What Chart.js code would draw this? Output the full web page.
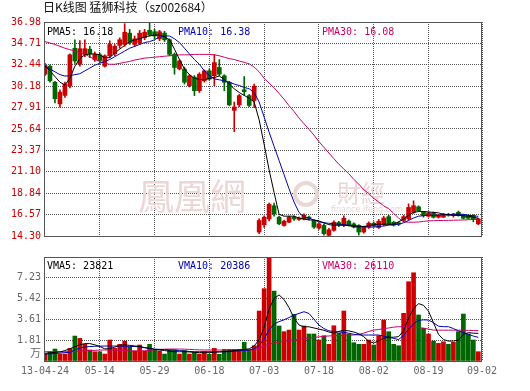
<!DOCTYPE html>
<html>
<head>
<meta charset="utf-8">
<script src="https://cdn.jsdelivr.net/npm/chart.js@4.4.1/dist/chart.umd.min.js"></script>
<style>
  body { margin: 0; background: #fff; }
  #wrap { position: relative; width: 530px; height: 391px; overflow: hidden; }
  #title { position: absolute; left: 43px; top: -2px; font: 12px 'Noto Sans CJK SC'; color: #111; white-space: pre; }
  #price { position: absolute; left: 0; top: 0; }
  #vol { position: absolute; left: 0; top: 245px; }
</style>
</head>
<body>
<div id="wrap">
  <canvas id="price" width="530" height="245"></canvas>
  <canvas id="vol" width="530" height="146"></canvas>
  <div id="title">日K线图 猛狮科技（sz002684）</div>
</div>
<script>
// trading days, 2013-04-24 .. 2013-09-02
const dates = ['04-24','04-25','04-26','05-02','05-03','05-06','05-07','05-08','05-09','05-10',
  '05-13','05-14','05-15','05-16','05-17','05-20','05-21','05-22','05-23','05-24',
  '05-27','05-28','05-29','05-30','05-31','06-03','06-04','06-05','06-06','06-07',
  '06-13','06-14','06-17','06-18','06-19','06-20','06-21','06-24','06-25','06-26',
  '06-27','06-28','07-01','07-02','07-03','07-04','07-05','07-08','07-09','07-10',
  '07-11','07-12','07-15','07-16','07-17','07-18','07-19','07-22','07-23','07-24',
  '07-25','07-26','07-29','07-30','07-31','08-01','08-02','08-05','08-06','08-07',
  '08-08','08-09','08-12','08-13','08-14','08-15','08-16','08-19','08-20','08-21',
  '08-22','08-23','08-26','08-27','08-28','08-29','08-30','09-02'];

const openP = [31.45,32.3,30.6,28.3,29.2,30.2,34.2,32.5,33.55,34.1,
  33.0,33.5,32.3,33.4,33.6,34.5,34.6,35.8,34.6,34.8,
  35.3,36.1,35.95,35.2,35.8,35.1,33.55,32.0,32.0,30.23,
  31.14,29.7,30.75,31.8,31.28,32.16,31.28,30.59,27.62,28.2,
  29.8,29.18,28.66,14.72,15.5,16.11,17.5,16.29,15.42,15.76,
  16.29,16.05,16.1,16.3,15.94,15.14,15.42,14.37,14.9,15.73,
  15.42,15.87,15.59,15.42,14.72,15.24,15.66,15.2,15.5,16.35,
  15.76,15.7,15.95,16.11,16.81,17.4,16.81,16.4,16.73,16.29,
  16.3,16.6,16.46,16.81,16.53,16.46,16.46,15.59];
const highP = [32.6,32.45,30.7,29.8,30.6,33.6,35.1,35.0,35.1,34.4,
  33.8,33.7,33.5,35.0,34.6,35.3,36.8,36.2,35.5,36.1,
  36.2,36.98,36.2,36.1,36.0,35.2,33.7,33.0,32.2,31.4,
  31.3,31.6,31.9,32.0,33.55,33.0,31.4,30.7,28.5,29.3,
  31.2,29.3,30.4,16.11,16.45,17.8,17.8,16.4,16.0,16.4,
  16.45,16.3,16.65,16.4,16.0,15.7,15.6,15.1,15.9,15.85,
  16.45,16.0,15.7,15.5,15.35,15.8,15.8,16.05,16.4,16.5,
  15.85,15.8,16.5,17.7,18.03,17.5,16.9,16.85,16.85,16.6,
  16.7,16.7,16.7,16.95,16.6,16.55,16.55,16.2];
const lowP = [31.3,30.6,28.4,27.95,29.0,30.0,32.6,32.3,33.3,33.2,
  32.8,32.7,32.2,33.2,33.4,34.2,34.4,34.6,34.4,34.6,
  35.1,35.5,35.2,35.0,34.9,33.4,31.45,31.9,30.4,30.1,
  29.18,29.5,30.6,30.8,30.23,31.3,29.7,28.1,25.36,28.0,
  29.2,28.0,27.9,14.54,15.2,15.9,16.4,15.5,15.35,15.7,
  15.95,15.95,16.0,16.0,15.1,15.0,14.4,14.3,14.8,15.3,
  15.3,15.35,15.15,14.4,14.6,15.1,15.25,15.1,15.4,15.5,
  15.35,15.4,15.8,16.0,16.7,16.9,16.3,16.3,16.2,16.2,
  16.25,16.4,16.3,16.4,16.1,16.1,15.8,15.5];
const closeP = [32.4,30.75,28.85,29.55,30.4,33.5,32.85,34.15,34.15,33.6,
  33.55,32.9,33.4,34.6,34.4,35.1,35.9,34.8,35.2,35.8,
  35.9,35.6,35.5,35.95,35.1,33.55,32.16,32.85,30.6,31.28,
  29.7,31.45,31.8,30.93,32.68,31.45,30.59,28.2,27.97,29.18,
  29.6,28.14,30.18,15.94,16.29,17.65,16.63,15.59,15.87,16.29,
  16.11,16.2,16.5,16.15,15.24,15.59,14.54,14.96,15.76,15.45,
  16.18,15.45,15.24,14.72,15.24,15.66,15.35,15.85,16.2,15.55,
  15.45,15.55,16.35,17.33,17.51,16.99,16.46,16.75,16.29,16.53,
  16.63,16.5,16.63,16.46,16.18,16.18,16.05,16.11];

const ma5 = [32.3,31.8,31.2,30.6,30.3,31.0,32.3,33.1,33.5,33.6,
  33.6,33.5,33.2,33.2,33.7,34.1,34.5,34.9,35.1,35.2,
  35.4,35.5,35.6,35.6,35.4,35.1,34.1,33.0,32.0,31.4,
  31.0,30.9,30.85,31.0,31.1,31.25,30.9,30.4,29.9,29.5,
  29.2,28.9,28.5,26.6,24.0,21.3,18.9,16.6,16.4,16.4,
  16.4,16.2,16.1,16.0,16.0,15.9,15.7,15.5,15.45,15.45,
  15.45,15.4,15.3,15.25,15.3,15.4,15.5,15.55,15.55,15.55,
  15.55,15.8,16.1,16.5,16.8,16.9,16.9,16.85,16.8,16.75,
  16.6,16.55,16.5,16.5,16.45,16.4,16.3,16.18];
const ma10 = [32.3,32.0,31.7,31.4,31.25,31.3,31.4,31.5,31.8,32.1,
  32.4,32.6,32.8,33.0,33.3,33.6,33.9,34.2,34.4,34.6,
  34.8,34.9,35.1,35.4,35.5,35.5,35.2,34.8,34.2,33.6,
  33.0,32.5,31.8,31.3,30.95,30.85,30.75,30.6,30.4,30.25,
  30.05,29.9,29.5,28.5,26.9,25.3,23.8,22.3,20.8,19.3,
  17.9,16.8,16.3,16.2,16.0,15.8,15.7,15.65,15.6,15.55,
  15.5,15.45,15.4,15.35,15.3,15.25,15.25,15.3,15.35,15.45,
  15.5,15.55,15.7,15.95,16.2,16.4,16.45,16.5,16.5,16.5,
  16.55,16.55,16.6,16.6,16.6,16.5,16.45,16.38];
const ma30 = [34.9,34.75,34.6,34.4,34.2,34.05,33.9,33.7,33.55,33.3,
  33.0,32.8,32.6,32.5,32.5,32.6,32.7,32.8,32.95,33.05,
  33.15,33.2,33.25,33.3,33.35,33.4,33.45,33.5,33.5,33.5,
  33.55,33.55,33.55,33.55,33.5,33.4,33.25,33.1,33.0,32.85,
  32.7,32.55,32.2,31.7,31.0,30.5,30.0,29.4,28.8,28.1,
  27.5,26.8,26.2,25.6,25.0,24.3,23.7,23.1,22.5,21.9,
  21.4,20.9,20.3,19.8,19.2,18.8,18.3,17.9,17.5,17.2,
  16.7,16.2,15.8,15.76,15.76,15.78,15.85,15.9,15.92,15.94,
  15.95,15.96,15.97,15.98,16.0,16.02,16.05,16.08];

// volume, in 10k (万)
const vol = [0.60,0.80,1.03,0.60,0.60,1.09,2.15,1.95,1.44,0.95,
  0.80,0.80,0.60,1.81,1.09,1.44,1.72,1.23,0.86,1.38,
  0.86,1.44,0.95,0.86,0.60,0.95,0.95,0.60,0.90,0.60,
  0.75,0.60,0.80,0.58,1.09,0.58,1.00,1.00,1.00,1.00,
  1.61,0.95,1.32,4.31,6.24,9.50,6.03,3.02,2.53,2.67,
  4.02,2.67,3.02,2.33,2.33,1.81,2.18,1.44,3.04,2.39,
  4.31,2.33,1.58,1.44,1.44,1.81,1.38,2.18,3.53,2.53,
  1.44,1.32,4.11,6.84,7.61,3.97,2.82,2.33,1.72,1.52,
  1.66,1.44,1.61,2.53,4.05,2.33,1.81,0.80];
const vma5 = [0.66,0.7,0.75,0.78,0.9,1.05,1.23,1.4,1.5,1.5,
  1.4,1.25,1.05,1.05,1.2,1.35,1.4,1.35,1.3,1.25,
  1.15,1.1,1.0,0.95,0.9,0.85,0.8,0.8,0.8,0.78,
  0.75,0.72,0.72,0.72,0.75,0.78,0.8,0.85,0.9,0.95,
  1.0,1.05,1.3,1.84,2.9,4.5,5.4,5.7,5.3,4.6,
  3.7,3.1,2.95,2.95,2.85,2.75,2.65,2.5,2.4,2.55,
  2.65,2.6,2.5,2.35,2.1,1.7,1.55,1.75,1.95,2.05,
  2.05,2.1,2.6,3.7,4.5,4.95,4.8,4.3,3.3,2.3,
  1.85,1.72,1.72,1.8,2.3,2.45,2.4,2.38];
const vma10 = [0.6,0.62,0.65,0.68,0.72,0.75,0.95,1.12,1.2,1.25,
  1.27,1.28,1.29,1.29,1.29,1.28,1.27,1.26,1.25,1.23,
  1.15,1.08,1.03,1.0,0.98,0.96,0.95,0.9,0.86,0.82,
  0.8,0.8,0.8,0.8,0.8,0.8,0.8,0.8,0.84,0.88,
  0.92,0.95,1.05,1.35,1.9,2.7,3.2,3.4,3.55,3.75,
  3.97,4.1,4.25,4.1,3.6,3.1,2.8,2.6,2.55,2.5,
  2.47,2.4,2.3,2.25,2.24,2.24,2.24,2.24,2.15,2.05,
  1.95,1.85,2.2,2.75,3.2,3.5,3.55,3.53,3.3,3.0,
  2.96,2.96,2.8,2.6,2.45,2.3,2.15,2.04];
const vma30 = [0.8,0.8,0.8,0.8,0.8,0.8,0.82,0.85,0.88,0.9,
  0.92,0.94,0.95,0.95,0.94,0.92,0.9,0.88,0.87,0.86,
  0.88,0.92,0.96,1.0,1.02,1.03,1.03,1.03,1.02,1.0,
  0.98,0.96,0.95,0.95,0.95,0.95,0.95,0.95,0.95,0.95,
  0.95,0.95,0.97,1.1,1.3,1.45,1.55,1.62,1.7,1.76,
  1.81,1.86,1.92,1.98,2.03,2.08,2.13,2.16,2.18,2.2,
  2.22,2.23,2.24,2.3,2.4,2.55,2.67,2.72,2.78,2.85,
  2.92,2.96,2.96,2.95,2.92,2.88,2.84,2.75,2.67,2.66,
  2.66,2.66,2.66,2.66,2.65,2.64,2.63,2.61];

const priceTicks = [14.30,16.57,18.84,21.10,23.37,25.64,27.91,30.18,32.44,34.71,36.98];
const volTicks = [0,1.81,3.61,5.42,7.23];
const dateTickIdx = [0,11,22,33,44,55,66,77,87];
const dateTickLabels = ['13-04-24','05-14','05-29','06-18','07-03','07-18','08-02','08-19','09-02'];

const UP = '#cc0000', DOWN = '#006600';
const C5 = '#000000', C10 = '#0000b4', C30 = '#cc0066';
const MONO = 'DejaVu Sans Mono';
const isUp = i => closeP[i] >= openP[i];
const candleColor = ctx => isUp(ctx.dataIndex) ? UP : DOWN;
const pts = arr => arr.map((v, i) => ({ x: i, y: v }));

const X_MIN = -0.2, X_MAX = 87.74;

function xAxis(showLabels) {
  return {
    type: 'linear', min: X_MIN, max: X_MAX, offset: false,
    afterBuildTicks: a => { a.ticks = dateTickIdx.map(i => ({ value: i === 87 ? X_MAX : i })); },
    afterFit: a => { a.height = showLabels ? 30 : 0; },
    ticks: {
      display: showLabels, autoSkip: false, maxRotation: 0, padding: 4,
      color: '#666', font: { family: MONO, size: 10 },
      callback: (v, i) => dateTickLabels[i]
    },
    grid: { color: '#555', lineWidth: 1, drawTicks: false, offset: false },
    border: { display: false, dash: [1, 1] }
  };
}

function lineSet(arr, color) {
  return { type: 'line', data: pts(arr), borderColor: color, borderWidth: 1,
    pointRadius: 0, tension: 0, order: 0 };
}

// frame + legend text
function overlay(texts) {
  return {
    id: 'overlay',
    afterDraw(chart) {
      const { ctx, chartArea: a } = chart;
      ctx.save();
      ctx.strokeStyle = '#555';
      ctx.lineWidth = 1;
      ctx.strokeRect(a.left + 0.5, a.top + 0.5, a.right - a.left - 1, a.bottom - a.top);
      ctx.font = '10px ' + MONO;
      ctx.textBaseline = 'middle';
      texts.forEach(t => { ctx.fillStyle = t.color; ctx.fillText(t.text, t.x, a.top + t.dy); });
      ctx.restore();
    }
  };
}

const watermark = {
  id: 'watermark',
  beforeDatasetsDraw(chart) {
    const ctx = chart.ctx;
    ctx.save();
    ctx.fillStyle = '#ecd6d6';
    ctx.textBaseline = 'middle';
    ctx.font = '36px "Noto Sans CJK TC"';
    ctx.fillText('鳳凰網', 138, 196);
    ctx.font = '24px "Noto Sans CJK TC"';
    ctx.fillText('財經', 337, 193);
    ctx.font = '8px "DejaVu Sans"';
    ctx.fillText('finance.ifeng.com', 331, 210);
    ctx.strokeStyle = '#ecd6d6';
    ctx.lineWidth = 4;
    ctx.beginPath();
    ctx.arc(306, 194, 11, 0, Math.PI * 2);
    ctx.stroke();
    ctx.restore();
  }
};

new Chart(document.getElementById('price'), {
  type: 'bar',
  data: {
    datasets: [
      lineSet(ma5, C5),
      lineSet(ma10, C10),
      lineSet(ma30, C30),
      { type: 'bar', data: dates.map((d, i) => ({ x: i, y: [openP[i], closeP[i]] })),
        backgroundColor: candleColor, barThickness: 4, grouped: false, minBarLength: 1, order: 4 },
      { type: 'bar', data: dates.map((d, i) => ({ x: i, y: [lowP[i], highP[i]] })),
        backgroundColor: candleColor, barThickness: 1, grouped: false, order: 5 }
    ]
  },
  options: {
    responsive: false, animation: false,
    layout: { padding: { top: 22, right: 48, bottom: 6, left: 0 } },
    plugins: { legend: { display: false }, tooltip: { enabled: false } },
    scales: {
      x: xAxis(false),
      y: {
        min: 14.30, max: 36.98,
        afterFit: a => { a.width = 44; },
        afterBuildTicks: a => { a.ticks = priceTicks.map(v => ({ value: v })); },
        ticks: { color: '#cc0000', font: { family: MONO, size: 10 }, padding: 3, autoSkip: false,
          callback: v => v.toFixed(2) },
        grid: { color: '#555', lineWidth: 1, drawTicks: false },
        border: { display: false, dash: [1, 1] }
      }
    }
  },
  plugins: [watermark, overlay([
    { text: 'PMA5: 16.18', color: C5, x: 47, dy: 10 },
    { text: 'PMA10: 16.38', color: C10, x: 178, dy: 10 },
    { text: 'PMA30: 16.08', color: C30, x: 322, dy: 10 }
  ])]
});

const volLabel = {
  id: 'volLabel',
  afterDraw(chart) {
    const { ctx } = chart;
    const y0 = chart.scales.y.getPixelForValue(0);
    ctx.save();
    ctx.fillStyle = '#666';
    ctx.font = '11px "Noto Sans CJK SC"';
    ctx.textAlign = 'right';
    ctx.textBaseline = 'middle';
    ctx.fillText('万', 41, y0 - 8);
    ctx.restore();
  }
};

new Chart(document.getElementById('vol'), {
  type: 'bar',
  data: {
    datasets: [
      lineSet(vma5, C5),
      lineSet(vma10, C10),
      lineSet(vma30, C30),
      { type: 'bar', data: vol.map((v, i) => ({ x: i, y: v })),
        backgroundColor: candleColor, barThickness: 4, grouped: false, order: 4 }
    ]
  },
  options: {
    responsive: false, animation: false,
    layout: { padding: { top: 12, right: 48, bottom: 0, left: 0 } },
    plugins: { legend: { display: false }, tooltip: { enabled: false } },
    scales: {
      x: xAxis(true),
      y: {
        min: 0, max: 8.97,
        afterFit: a => { a.width = 44; },
        afterBuildTicks: a => { a.ticks = volTicks.map(v => ({ value: v })); },
        ticks: { color: '#666', font: { family: MONO, size: 10 }, padding: 3, autoSkip: false,
          callback: v => v === 0 ? '' : v.toFixed(2) },
        grid: { color: c => (c.tick && c.tick.value === 0) ? 'rgba(0,0,0,0)' : '#555', lineWidth: 1, drawTicks: false },
        border: { display: false, dash: [1, 1] }
      }
    }
  },
  plugins: [volLabel, overlay([
    { text: 'VMA5: 23821', color: C5, x: 47, dy: 9 },
    { text: 'VMA10: 20386', color: C10, x: 178, dy: 9 },
    { text: 'VMA30: 26110', color: C30, x: 322, dy: 9 }
  ])]
});
</script>
</body>
</html>
